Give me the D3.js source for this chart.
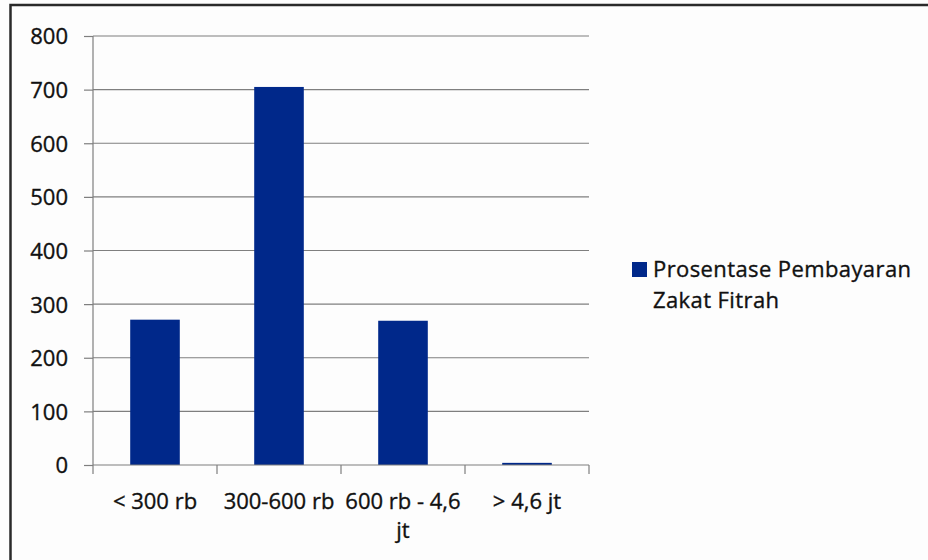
<!DOCTYPE html>
<html><head><meta charset="utf-8">
<script src="https://cdn.jsdelivr.net/npm/d3@7"></script>
<style>
html,body{margin:0;padding:0;background:#fdfdfd;}
svg{display:block;}
text{font-family:"Open Sans",Lato,sans-serif;fill:#111;stroke:#111;stroke-width:0.35px;}
</style></head>
<body>
<svg id="c" width="928" height="560"></svg>
<script>
const categories = ["< 300 rb", "300-600 rb", "600 rb - 4,6 jt", "> 4,6 jt"];
const categoryLines = [["< 300 rb"], ["300-600 rb"], ["600 rb - 4,6", "jt"], ["> 4,6 jt"]];
const values = [271, 705, 269, 4];
const yTicks = [0, 100, 200, 300, 400, 500, 600, 700, 800];
const seriesName = ["Prosentase Pembayaran", "Zakat Fitrah"];

(function () {
const svg = d3.select("#c");
const W = 928, H = 560;
const FS = "22px";
svg.append("rect").attr("width", W).attr("height", H).attr("fill", "#fdfdfd");
// frame
svg.append("rect").attr("x", 10.5).attr("y", 5).attr("width", W + 20).attr("height", H + 20)
  .attr("fill", "none").attr("stroke", "#2a2a2a").attr("stroke-width", 2.5);

const pL = 93, pR = 589, pT = 36, pB = 465;
const x = d3.scaleBand().domain(categories).range([pL, pR]).paddingInner(0).paddingOuter(0);
const y = d3.scaleLinear().domain([0, 800]).range([pB, pT]);

// gridlines
svg.append("g").selectAll("line").data(yTicks.filter(d => d > 0)).join("line")
  .attr("x1", pL).attr("x2", pR)
  .attr("y1", d => y(d)).attr("y2", d => y(d))
  .attr("stroke", "#7f7f7f").attr("stroke-width", 1.2);

// bars
const bw = x.bandwidth() * 0.4;
svg.append("g").selectAll("rect").data(values).join("rect")
  .attr("x", (d, i) => x(categories[i]) + (x.bandwidth() - bw) / 2)
  .attr("width", bw)
  .attr("y", d => y(d))
  .attr("height", d => y(0) - y(d))
  .attr("fill", "#00288a");

// y axis
const ya = d3.axisLeft(y).tickValues(yTicks).tickSize(9).tickPadding(16);
const gy = svg.append("g").attr("transform", `translate(${pL},0)`).call(ya);
gy.select(".domain").attr("stroke", "#7f7f7f").attr("stroke-width", 1.2).attr("d", `M0,${pT}V${pB}`);
gy.selectAll(".tick line").attr("stroke", "#7f7f7f").attr("stroke-width", 1.2);
gy.selectAll(".tick text").style("font-family", "'Open Sans',sans-serif").style("font-size", FS)
  .attr("fill", "#111").attr("stroke", "#111").attr("stroke-width", 0.35).attr("dy", "0.36em");

// x axis
const xa = d3.axisBottom(x).tickSize(0).tickFormat("");
const gx = svg.append("g").attr("transform", `translate(0,${pB})`).call(xa);
gx.select(".domain").attr("stroke", "#7f7f7f").attr("stroke-width", 1.2).attr("d", `M${pL},0H${pR}`);
const edges = categories.map(c => x(c)).concat([pR]);
gx.selectAll("line.edge").data(edges).join("line").attr("class", "edge")
  .attr("x1", d => d).attr("x2", d => d).attr("y1", 0).attr("y2", 9)
  .attr("stroke", "#7f7f7f").attr("stroke-width", 1.2);

const lbl = svg.append("g");
categoryLines.forEach((lines, i) => {
  const cx = x(categories[i]) + x.bandwidth() / 2;
  const t = lbl.append("text").attr("text-anchor", "middle")
    .attr("x", cx).attr("y", 509)
    .style("font-size", FS);
  lines.forEach((l, j) => t.append("tspan").attr("x", cx).attr("dy", j ? 29 : 0).text(l));
});

// legend
const lg = svg.append("g");
lg.append("rect").attr("x", 632).attr("y", 262).attr("width", 15).attr("height", 15).attr("fill", "#00288a");
const lt = lg.append("text").attr("x", 653).attr("y", 277).style("font-size", FS).style("letter-spacing", "0.4px");
seriesName.forEach((s, j) => lt.append("tspan").attr("x", 653).attr("dy", j ? 31 : 0).text(s));
})();
</script>
</body></html>
